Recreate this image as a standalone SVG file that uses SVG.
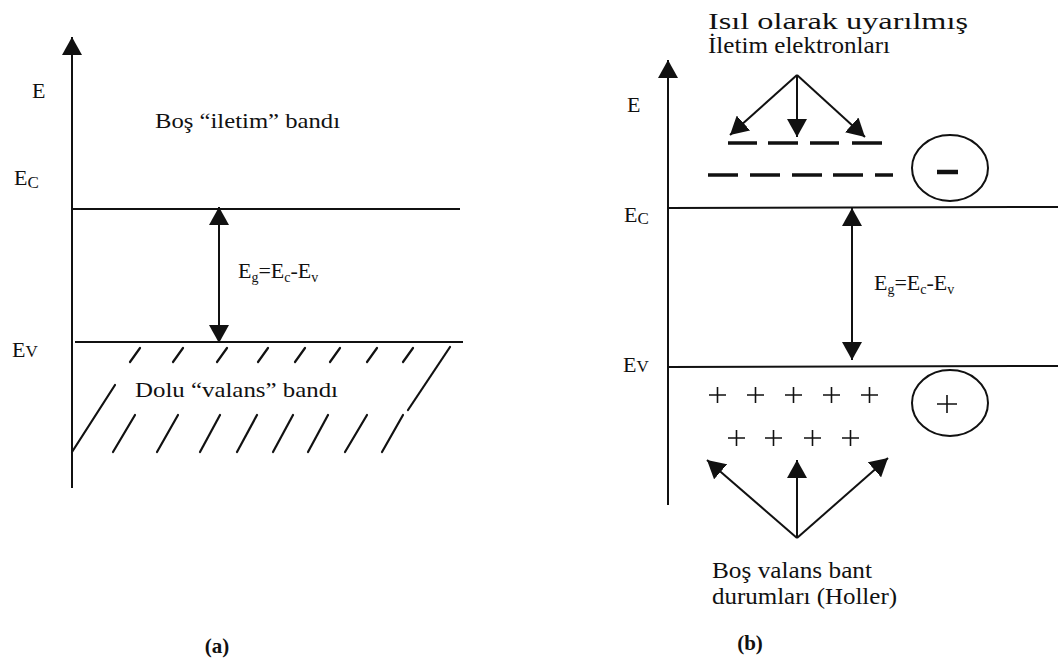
<svg xmlns="http://www.w3.org/2000/svg" width="1058" height="660" viewBox="0 0 1058 660">
<style>
.ln{stroke:#111;stroke-width:2;fill:none}
.hatch{stroke:#111;stroke-width:2.2;fill:none;stroke-linecap:round}
.dash{stroke:#111;stroke-width:3.5;fill:none}
.thin{stroke:#111;stroke-width:1.6;fill:none}
.t{font-family:"Liberation Serif","Times New Roman",serif;fill:#111}
.lbl{font-family:"Liberation Serif","Times New Roman",serif;fill:#111;font-size:22px}
.big{font-family:"Liberation Serif","Times New Roman",serif;fill:#111;font-size:24px}
.cap{font-family:"Liberation Serif","Times New Roman",serif;fill:#111;font-size:21px;font-weight:bold}
</style>
<defs>
<marker id="ah" viewBox="0 0 18 20" refX="18" refY="10" markerWidth="18" markerHeight="20" markerUnits="userSpaceOnUse" orient="auto-start-reverse">
<path d="M0,0 L18,10 L0,20 z" fill="#111"/>
</marker>
</defs>
<rect width="1058" height="660" fill="#fff"/>

<g id="panel-a">
  <g id="a-axis-label"><text class="lbl" x="32" y="98">E</text></g>
  <g id="a-ec-label"><text class="lbl" x="14" y="185">E<tspan font-size="17" dy="3">C</tspan></text></g>
  <g id="a-ev-label"><text class="lbl" x="12" y="357">E<tspan font-size="17">V</tspan></text></g>
  <g id="a-conduction"><text class="lbl" x="155" y="128" textLength="185" lengthAdjust="spacingAndGlyphs">Boş “iletim” bandı</text></g>
  <g id="a-gap"><text class="t" x="238" y="278" font-size="22">E<tspan font-size="14" dy="4">g</tspan><tspan dy="-4">=E</tspan><tspan font-size="14" dy="4">c</tspan><tspan dy="-4">-E</tspan><tspan font-size="14" dy="4">v</tspan></text></g>
  <g id="a-valence">
    <text class="lbl" x="135" y="397" textLength="203" lengthAdjust="spacingAndGlyphs">Dolu “valans” bandı</text>
    <g class="hatch">
      <line x1="130" y1="362" x2="140" y2="348"/>
      <line x1="173" y1="362" x2="183" y2="348"/>
      <line x1="217" y1="362" x2="227" y2="348"/>
      <line x1="258" y1="362" x2="268" y2="348"/>
      <line x1="295" y1="362" x2="305" y2="348"/>
      <line x1="330" y1="362" x2="340" y2="348"/>
      <line x1="367" y1="362" x2="377" y2="348"/>
      <line x1="403" y1="362" x2="413" y2="348"/>
      <line x1="408" y1="410" x2="450" y2="347"/>
      <line x1="72" y1="452" x2="115" y2="385"/>
      <line x1="113" y1="452" x2="135" y2="415"/>
      <line x1="157" y1="452" x2="178" y2="415"/>
      <line x1="200" y1="452" x2="220" y2="415"/>
      <line x1="237" y1="452" x2="257" y2="415"/>
      <line x1="273" y1="452" x2="293" y2="415"/>
      <line x1="308" y1="452" x2="328" y2="415"/>
      <line x1="345" y1="452" x2="367" y2="415"/>
      <line x1="382" y1="452" x2="403" y2="415"/>
    </g>
  </g>
  <g id="a-caption"><text class="cap" x="217" y="653" text-anchor="middle">(a)</text></g>
</g>

<g id="panel-b">
  <g id="b-axis-label"><text class="lbl" x="627" y="112">E</text></g>
  <g id="b-ec-label"><text class="lbl" x="624" y="222">E<tspan font-size="17" dy="2">C</tspan></text></g>
  <g id="b-ev-label"><text class="lbl" x="623" y="372">E<tspan font-size="17">V</tspan></text></g>
  <g id="b-electrons-label">
    <text class="big" x="708" y="29" textLength="260" lengthAdjust="spacingAndGlyphs">Isıl olarak uyarılmış</text>
    <text class="big" x="708" y="53" textLength="182" lengthAdjust="spacingAndGlyphs">İletim elektronları</text>
  </g>
  <g id="b-electron-levels">
    <g class="dash">
      <line x1="728" y1="143" x2="757" y2="143"/>
      <line x1="768" y1="143" x2="798" y2="143"/>
      <line x1="810" y1="143" x2="839" y2="143"/>
      <line x1="852" y1="143" x2="882" y2="143"/>
      <line x1="708" y1="175" x2="738" y2="175"/>
      <line x1="750" y1="175" x2="780" y2="175"/>
      <line x1="792" y1="175" x2="822" y2="175"/>
      <line x1="833" y1="175" x2="863" y2="175"/>
      <line x1="875" y1="175" x2="893" y2="175"/>
    </g>
  </g>
  <g id="b-minus">
    <ellipse class="ln" cx="950" cy="168" rx="38" ry="33"/>
    <line x1="937" y1="172" x2="958" y2="172" stroke="#111" stroke-width="4.5"/>
  </g>
  <g id="b-gap"><text class="t" x="874" y="290" font-size="22">E<tspan font-size="14" dy="4">g</tspan><tspan dy="-4">=E</tspan><tspan font-size="14" dy="4">c</tspan><tspan dy="-4">-E</tspan><tspan font-size="14" dy="4">v</tspan></text></g>
  <g id="b-holes" class="thin">
    <path d="M709,395 h17 M717.5,387 v16"/>
    <path d="M747,395 h17 M755.5,387 v16"/>
    <path d="M785,395 h17 M793.5,387 v16"/>
    <path d="M823,395 h17 M831.5,387 v16"/>
    <path d="M861,395 h17 M869.5,387 v16"/>
    <path d="M728,438 h17 M736.5,430 v16"/>
    <path d="M765,438 h17 M773.5,430 v16"/>
    <path d="M804,438 h17 M812.5,430 v16"/>
    <path d="M842,438 h17 M850.5,430 v16"/>
  </g>
  <g id="b-plus">
    <ellipse class="ln" cx="950" cy="403" rx="38" ry="33"/>
    <path class="thin" d="M937,404 h20 M947,395 v18"/>
  </g>
  <g id="b-holes-label">
    <text class="big" x="712" y="578" textLength="160" lengthAdjust="spacingAndGlyphs">Boş valans bant</text>
    <text class="big" x="712" y="604" textLength="185" lengthAdjust="spacingAndGlyphs">durumları (Holler)</text>
  </g>
  <g id="b-caption"><text class="cap" x="750" y="650" text-anchor="middle">(b)</text></g>
</g>

<g id="connectors">
  <line class="ln" x1="72" y1="488" x2="72" y2="37" marker-end="url(#ah)"/>
  <line class="ln" x1="72" y1="209" x2="460" y2="209"/>
  <line class="ln" x1="75" y1="342" x2="463" y2="342"/>
  <line class="ln" x1="219" y1="207" x2="219" y2="343" marker-start="url(#ah)" marker-end="url(#ah)"/>
  <line class="ln" x1="668" y1="505" x2="668" y2="60" marker-end="url(#ah)"/>
  <line class="ln" x1="668" y1="208" x2="1058" y2="207"/>
  <line class="ln" x1="668" y1="367" x2="1058" y2="366"/>
  <line class="ln" x1="852" y1="208" x2="852" y2="360" marker-start="url(#ah)" marker-end="url(#ah)"/>
  <line class="ln" x1="797" y1="75" x2="730" y2="135" marker-end="url(#ah)"/>
  <line class="ln" x1="797" y1="75" x2="797" y2="137" marker-end="url(#ah)"/>
  <line class="ln" x1="797" y1="75" x2="865" y2="137" marker-end="url(#ah)"/>
  <line class="ln" x1="797" y1="538" x2="707" y2="460" marker-end="url(#ah)"/>
  <line class="ln" x1="797" y1="538" x2="797" y2="460" marker-end="url(#ah)"/>
  <line class="ln" x1="797" y1="538" x2="888" y2="458" marker-end="url(#ah)"/>
</g>
</svg>
